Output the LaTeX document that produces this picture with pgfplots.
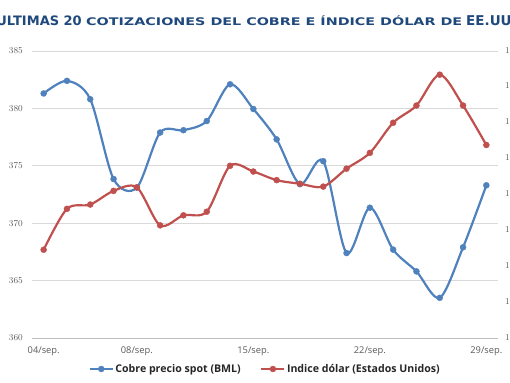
\documentclass[border=0pt]{standalone}
\usepackage{fontspec}
\setmainfont{Open Sans}
\newfontfamily\titlefont{DejaVu Sans}
\usepackage{pgfplots}
\pgfplotsset{compat=1.18}
\definecolor{cblue}{HTML}{4F81BD}
\definecolor{cred}{HTML}{C0504D}
\definecolor{ttl}{HTML}{1F497D}
\definecolor{lbl}{HTML}{595959}
\definecolor{grd}{HTML}{D9D9D9}

\pgfplotstableread{
x cobre
0 381.3
1 382.4
2 380.8
3 373.85
4 373.1
5 377.9
6 378.1
7 378.9
8 382.1
9 379.95
10 377.3
11 373.4
12 375.4
13 367.4
14 371.35
15 367.7
16 365.8
17 363.5
18 367.9
19 373.3
}\cobre

\pgfplotstableread{
x dolar
0 104.23
1 104.80
2 104.86
3 105.05
4 105.10
5 104.57
6 104.71
7 104.76
8 105.40
9 105.32
10 105.20
11 105.15
12 105.11
13 105.36
14 105.58
15 106.00
16 106.24
17 106.67
18 106.24
19 105.69
}\dolar

\begin{document}
\begin{tikzpicture}[x=1pt,y=1pt]
\useasboundingbox (0,0) rectangle (510,382);
\pgfplotsset{
  base/.style={
    scale only axis, width=466pt, height=287pt,
    at={(32pt,44pt)}, anchor=south west,
    xmin=-0.5, xmax=19.5,
    major tick length=0pt,
    tick label style={font=\fontsize{9.3}{10}\selectfont, text=lbl, inner sep=0pt},
  },
  ser/.style={line width=2.2pt, smooth, tension=0.5, mark=*, mark size=3pt,
    mark options={solid, line width=0.4pt}},
}
\begin{axis}[base,
  ymin=360, ymax=385, ytick={360,365,...,385},
  xtick={0,4,9,14,19},
  xticklabels={04/sep.,08/sep.,15/sep.,22/sep.,29/sep.},
  axis x line*=bottom, axis y line*=left,
  x axis line style={draw=grd!70!gray, line width=0.9pt, -},
  y axis line style={draw=none},
  ymajorgrids, major grid style={draw=grd, line width=0.8pt},
  yticklabel style={anchor=east, xshift=-9pt},
  xticklabel style={anchor=north, yshift=-9pt},
  legend style={at={(0.5,-0.108)}, anchor=center, draw=none, fill=none,
    legend columns=2, inner sep=0pt,
    font=\bfseries\fontsize{10.6}{11}\selectfont, text=black!85,
    nodes={inner sep=1.5pt},
    /tikz/every even column/.append style={column sep=18pt}},
  legend image code/.code={\draw[#1,mark repeat=2,mark phase=2] plot coordinates {(0pt,0pt) (11.5pt,0pt) (23pt,0pt)};},
]
\addplot[ser, color=cblue] table[x=x,y=cobre]{\cobre};
\addlegendentry{Cobre precio spot (BML)}
\addlegendimage{ser, color=cred}
\addlegendentry{Indice dólar (Estados Unidos)}
\end{axis}
\begin{axis}[base,
  ymin=103, ymax=107, ytick={103,103.5,...,107},
  axis x line=none, axis y line*=right,
  y axis line style={draw=none},
  yticklabel style={anchor=west, xshift=7pt,
    /pgf/number format/.cd, fixed, fixed zerofill, precision=1, use comma},
]
\addplot[ser, color=cred] table[x=x,y=dolar]{\dolar};
\end{axis}
\node[anchor=base east, font=\titlefont\bfseries\fontsize{13}{14}\selectfont, text=ttl, inner sep=0pt] at (82,356.3) {ULTIMAS 20};
\node[anchor=base west, font=\titlefont\bfseries\fontsize{10.5}{11}\selectfont, text=ttl, inner sep=0pt] at (86,356.3) {\resizebox{376pt}{\height}{COTIZACIONES DEL COBRE E ÍNDICE DÓLAR DE}};
\node[anchor=base west, font=\titlefont\bfseries\fontsize{13.5}{14}\selectfont, text=ttl, inner sep=0pt] at (466,356.3) {EE.UU.};
\end{tikzpicture}
\end{document}
